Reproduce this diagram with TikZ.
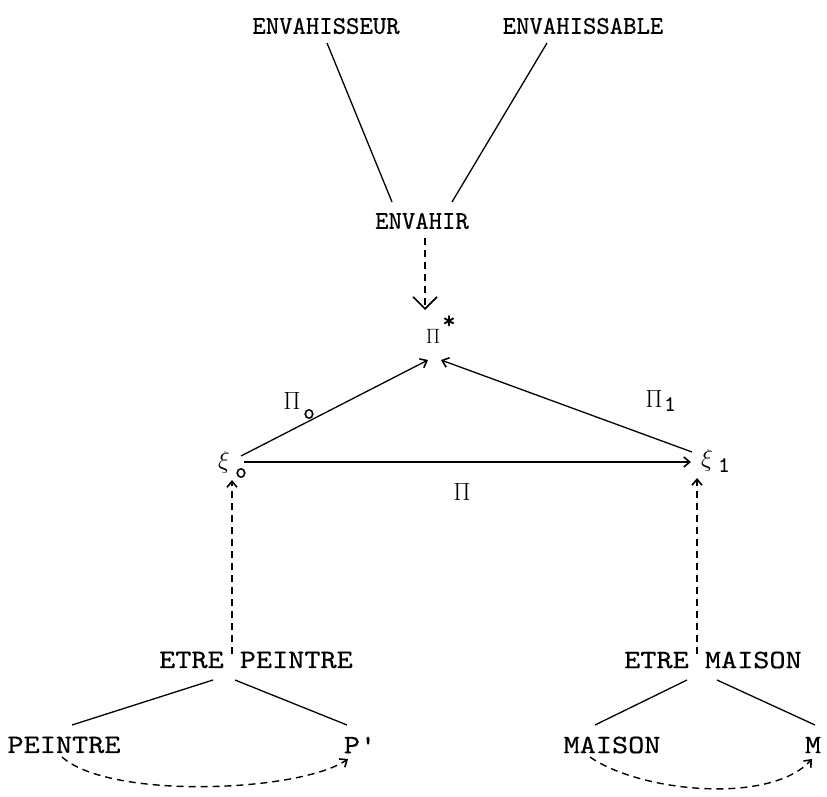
\documentclass[tikz,border=0pt]{standalone}
\usepackage{fontspec}
\newfontfamily\twfont{lmmono10-regular.otf}[FakeBold=0.5]
\newfontfamily\twwide{lmmono10-regular.otf}[FakeBold=0.5,FakeStretch=1.16]
\usetikzlibrary{arrows.meta,calc}
\begin{document}
\begin{tikzpicture}[x=1pt,y=-1pt,
  every node/.style={inner sep=1pt,font=\fontsize{25.5}{28}\selectfont\twfont},
  lower/.style={font=\fontsize{26.5}{28}\selectfont\twwide},
  greek/.style={font=\fontsize{34}{34}\selectfont},
  lbl/.style={font=\fontsize{25}{26}\selectfont},
  subs/.style={font=\fontsize{22}{24}\selectfont\twfont},
  link/.style={line width=1.3pt},
  dsh/.style={line width=1.4pt,dash pattern=on 7pt off 5pt},
  barb/.style={-{Straight Barb[length=6pt,width=10pt,line width=1.6pt]}},
  bigv/.style={-{Straight Barb[length=12pt,width=24pt,line width=1.6pt]}}]
\useasboundingbox (0,0) rectangle (827,797);
% top
\node (t1) at (326,26) {ENVAHISSEUR};
\node (t2) at (583,26) {ENVAHISSABLE};
\node (env) at (422,221) {ENVAHIR};
\draw[link] ([shift={(1,17)}]t1.center) -- ([shift={(-30,-19)}]env.center);
\draw[link] ([shift={(-36,17)}]t2.center) -- ([shift={(30,-19)}]env.center);
% pi star
\node[font=\fontsize{22}{24}\selectfont] (ps) at (433,336) {$\Pi$};
\node (star) at (449,322) {*};
\draw[dsh,bigv] ([shift={(3,17)}]env.center) -- ([shift={(-8,-26)}]ps.center);
% xi nodes
\node[greek] (x0) at (224,462) {$\xi$};
\node[subs] (x0s) at (241,473) {o};
\node[greek] (x1) at (707,460) {$\xi$};
\node[subs] (x1s) at (724,465) {1};
\draw[link,barb] ([shift={(17,-6)}]x0.center) -- ([shift={(-5,24)}]ps.center);
\draw[link,barb] ([shift={(-15,-8)}]x1.center) -- ([shift={(8,24)}]ps.center);
\draw[link,barb] ([shift={(20,0)}]x0.center) -- ([shift={(-16,2)}]x1.center);
\node[lbl] (l0) at (292,401) {$\Pi$};
\node[subs] (l0s) at (309,414) {o};
\node[lbl] (l1) at (654,399) {$\Pi$};
\node[subs] (l1s) at (670,404) {1};
\node[lbl] (l) at (462,492) {$\Pi$};
% lower
\node[lower] (ep) at (256,660) {ETRE PEINTRE};
\node[lower] (em) at (713,660) {ETRE MAISON};
\draw[dsh,barb] ([shift={(-24,-6)}]ep.center) -- ([shift={(8,18)}]x0.center);
\draw[dsh,barb] ([shift={(-16,-6)}]em.center) -- ([shift={(-10,18)}]x1.center);
\node[lower] (p) at (64,745) {PEINTRE};
\node[lower] (pp) at (360,745) {P'};
\node[lower] (m) at (612,745) {MAISON};
\node[lower] (mm) at (813,745) {M};
\draw[link] ([shift={(-43,20)}]ep.center) -- ([shift={(8,-20)}]p.center);
\draw[link] ([shift={(-21,20)}]ep.center) -- ([shift={(-13,-20)}]pp.center);
\draw[link] ([shift={(-26,20)}]em.center) -- ([shift={(-17,-20)}]m.center);
\draw[link] ([shift={(4,20)}]em.center) -- ([shift={(2,-20)}]mm.center);
\draw[dsh,barb] ([shift={(-2,12)}]p.center) .. controls (110,800) and (300,792) .. ([shift={(-12,14)}]pp.center);
\draw[dsh,barb] ([shift={(-22,12)}]m.center) .. controls (640,792) and (770,805) .. ([shift={(-1,14)}]mm.center);
\end{tikzpicture}
\end{document}
